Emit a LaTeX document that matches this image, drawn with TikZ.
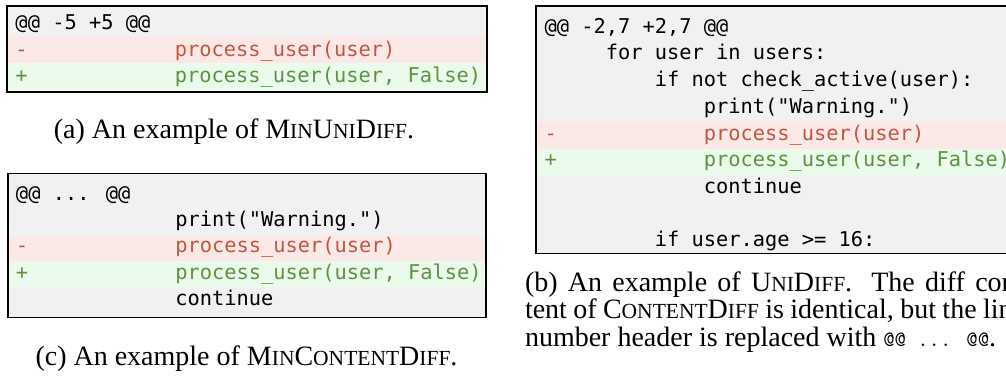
\documentclass[tikz,border=0pt]{standalone}
\usepackage{fontspec}
\setmainfont{Liberation Serif}
\newfontfamily\codefont{DejaVu Sans Mono}
\definecolor{bggray}{RGB}{241,241,241}
\definecolor{bgred}{RGB}{251,233,231}
\definecolor{bggreen}{RGB}{234,251,236}
\definecolor{txred}{RGB}{197,86,62}
\definecolor{txgreen}{RGB}{90,150,62}
\newcommand\smc[1]{{\fontsize{21.5}{24}\selectfont #1}}
\tikzset{
  code/.style={font={\codefont\fontsize{20.35}{24}\selectfont}, inner sep=0pt, outer sep=0pt, anchor=base west},
  del/.style={code, text=txred},
  add/.style={code, text=txgreen},
  boxframe/.style={draw=black, line width=1.8pt},
  captext/.style={font={\fontsize{28}{28}\selectfont}, inner sep=0pt, outer sep=0pt, anchor=base},
}
\begin{document}
\begin{tikzpicture}[x=1pt,y=-1pt]
\useasboundingbox (0,0) rectangle (1006,377);
\clip (0,0) rectangle (1006,377);
% ---------- (a) ----------
\fill[bggray] (7.3,6) rectangle (487.3,92);
\fill[bgred] (7.3,36) rectangle (487.3,62.7);
\fill[bggreen] (7.3,62.7) rectangle (487.3,92);
\draw[boxframe] (7.3,6) rectangle (487.3,92);
\node[code] (a0) at (15.5,30) {@@ -5 +5 @@};
\node[del] (amp) at (15.5,56.3) {-};
\node[del] (am) at (174.75,56.3) {process\_user(user)};
\node[add] (app) at (15.5,82.7) {+};
\node[add] (ap) at (174.75,82.7) {process\_user(user, False)};
\node[captext] (acap) at (234,138.5) {(a) An example of M\smc{IN}U\smc{NI}D\smc{IFF}.};
% ---------- (c) ----------
\fill[bggray] (7.7,173.5) rectangle (486,317.5);
\fill[bgred] (7.7,236) rectangle (486,261);
\fill[bggreen] (7.7,261) rectangle (486,286.7);
\draw[boxframe] (7.7,173.5) rectangle (486,317.5);
\node[code] (c0) at (16,200) {@@ ... @@};
\node[code] (c1) at (175.25,226.3) {print("Warning.")};
\node[del] (cmp) at (16,252.7) {-};
\node[del] (cm) at (175.25,252.7) {process\_user(user)};
\node[add] (cpp) at (16,279.2) {+};
\node[add] (cp) at (175.25,279.2) {process\_user(user, False)};
\node[code] (c5) at (175.25,305.3) {continue};
\node[captext] (ccap) at (246.5,365.5) {(c) An example of M\smc{IN}C\smc{ONTENT}D\smc{IFF}.};
% ---------- (b) ----------
\fill[bggray] (535.7,6) rectangle (1020,253.5);
\fill[bgred] (535.7,121.7) rectangle (1020,149);
\fill[bggreen] (535.7,149) rectangle (1020,175.7);
\draw[boxframe] (535.7,6) rectangle (1020,253.5);
\node[code] (b0) at (544.5,33.3) {@@ -2,7 +2,7 @@};
\node[code] (b1) at (605.75,60) {for user in users:};
\node[code] (b2) at (654.75,86.7) {if not check\_active(user):};
\node[code] (b3) at (703.75,113.3) {print("Warning.")};
\node[del] (bmp) at (544.5,140) {-};
\node[del] (bm) at (703.75,140) {process\_user(user)};
\node[add] (bpp) at (544.5,166.7) {+};
\node[add] (bp) at (703.75,166.7) {process\_user(user, False)};
\node[code] (b6) at (703.75,193.3) {continue};
\node[code] (b8) at (654.75,246.7) {if user.age >= 16:};
\node[captext, anchor=base west] (bcap1) at (525,291) {\hbox to 500pt{(b) An example of U\smc{NI}D\smc{IFF}\@. The diff con-}};
\node[captext, anchor=base west] (bcap2) at (525,318.5) {\hbox to 500pt{tent of C\smc{ONTENT}D\smc{IFF} is identical, but the line}};
\node[captext, anchor=base west] (bcap3) at (525,346) {number header is replaced with {\ttfamily\fontsize{22}{24}\selectfont @@ ... @@}.};
\end{tikzpicture}
\end{document}
